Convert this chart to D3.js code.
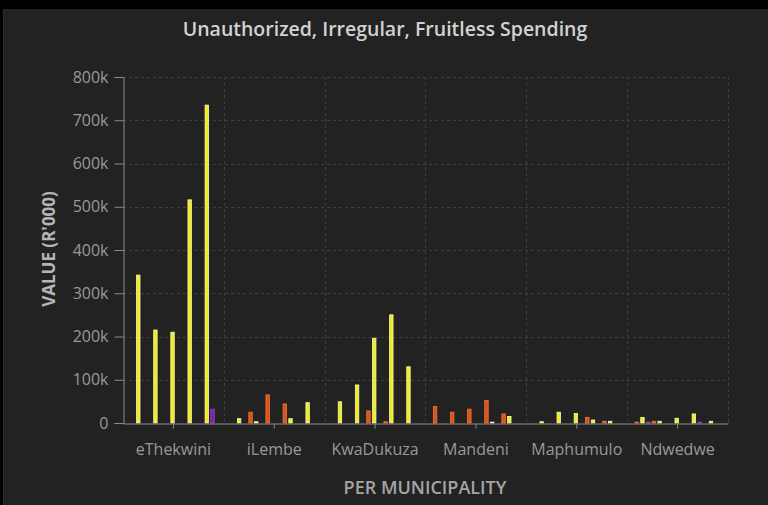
<!DOCTYPE html>
<html>
<head>
<meta charset="utf-8">
<script src="https://cdn.jsdelivr.net/npm/d3@7"></script>
<style>
  html, body { margin: 0; padding: 0; background: #000; }
  svg { display: block; }
</style>
</head>
<body>
<svg id="chart" width="768" height="505"></svg>
<script>
// Municipalities along the x axis
const municipalities = ["eThekwini", "iLembe", "KwaDukuza", "Mandeni", "Maphumulo", "Ndwedwe"];

// Five reporting years, each split into three spending types
const years = ["Y1", "Y2", "Y3", "Y4", "Y5"];
const types = ["Unauthorized", "Irregular", "Fruitless"];

// Values in R'000, one array per year and type, ordered as municipalities
const unauthorizedY1 = [0, 0, 0, 38000, 0, 2000];
const irregularY1    = [342000, 10000, 49000, 0, 3000, 13000];
const fruitlessY1    = [0, 0, 0, 0, 0, 2000];

const unauthorizedY2 = [0, 25000, 0, 25000, 0, 4000];
const irregularY2    = [215000, 3000, 88000, 0, 25000, 4000];
const fruitlessY2    = [0, 0, 0, 0, 0, 0];

const unauthorizedY3 = [0, 65000, 28000, 32000, 0, 0];
const irregularY3    = [210000, 0, 196000, 0, 22000, 11000];
const fruitlessY3    = [0, 0, 0, 0, 0, 0];

const unauthorizedY4 = [0, 44000, 3000, 52000, 13000, 0];
const irregularY4    = [516000, 10000, 250000, 2000, 7000, 21000];
const fruitlessY4    = [0, 0, 0, 0, 0, 2000];

const unauthorizedY5 = [0, 0, 0, 21000, 4000, 0];
const irregularY5    = [735000, 47000, 130000, 15000, 4000, 4000];
const fruitlessY5    = [32000, 0, 0, 0, 0, 0];

const yTicks = [0, 100000, 200000, 300000, 400000, 500000, 600000, 700000, 800000];

const seriesValues = [
  unauthorizedY1, irregularY1, fruitlessY1,
  unauthorizedY2, irregularY2, fruitlessY2,
  unauthorizedY3, irregularY3, fruitlessY3,
  unauthorizedY4, irregularY4, fruitlessY4,
  unauthorizedY5, irregularY5, fruitlessY5
];
const seriesKeys = [];
years.forEach(y => types.forEach(t => seriesKeys.push(y + "-" + t)));

const fillByType = { Unauthorized: "#de5018", Irregular: "#eded1c", Fruitless: "#7a22a6" };
const strokeByType = { Unauthorized: "#ef7a3c", Irregular: "#f9f9b4", Fruitless: "#9a48c4" };

const W = 768, H = 505;
const margin = { left: 123, right: 40, top: 77, bottom: 82 };

const svg = d3.select("#chart");

// panel background
svg.append("rect").attr("x", 3).attr("y", 9).attr("width", W - 3).attr("height", H - 9)
  .attr("fill", "#222222");
svg.append("line").attr("x1", 3.5).attr("x2", 3.5).attr("y1", 9).attr("y2", H)
  .attr("stroke", "#2c2c2c");

const x0 = d3.scaleBand().domain(municipalities)
  .range([margin.left, W - margin.right]).padding(0);
const x1 = d3.scaleBand().domain(seriesKeys)
  .range([0, x0.bandwidth()]).paddingInner(0.4).paddingOuter(1.53).align(0.45);
const y = d3.scaleLinear().domain([0, 800000]).range([H - margin.bottom, margin.top]);

const plotLeft = margin.left, plotRight = W - margin.right;

// dashed grid
const grid = svg.append("g");
yTicks.filter(t => t > 0).forEach(t => {
  grid.append("line")
    .attr("x1", plotLeft).attr("x2", plotRight)
    .attr("y1", Math.round(y(t)) + 0.5).attr("y2", Math.round(y(t)) + 0.5)
    .attr("stroke", "#3e3e3e").attr("stroke-dasharray", "3,3");
});
municipalities.forEach(m => {
  const xv = Math.round(x0(m) + x0.bandwidth()) + 0.5;
  grid.append("line")
    .attr("x1", xv).attr("x2", xv)
    .attr("y1", y(800000)).attr("y2", y(0))
    .attr("stroke", "#3e3e3e").attr("stroke-dasharray", "3,3");
});

// bars
const rows = [];
municipalities.forEach((m, mi) => {
  seriesKeys.forEach((k, si) => {
    const v = seriesValues[si][mi];
    if (v > 0) rows.push({ m, k, type: k.split("-")[1], v });
  });
});

svg.append("g").selectAll("rect").data(rows).join("rect")
  .attr("x", d => x0(d.m) + x1(d.k))
  .attr("y", d => y(d.v))
  .attr("width", x1.bandwidth())
  .attr("height", d => y(0) - y(d.v))
  .attr("fill", d => fillByType[d.type])
  .attr("stroke", d => strokeByType[d.type])
  .attr("stroke-width", 0.8);

// axes
const yAxis = svg.append("g")
  .attr("transform", `translate(${plotLeft + 0.5},0)`)
  .call(d3.axisLeft(y).tickValues(yTicks).tickFormat(d3.format("~s")).tickSize(9).tickPadding(6));
yAxis.select(".domain").attr("stroke", "#8a8a8a");
yAxis.selectAll(".tick line").attr("stroke", "#8a8a8a");
yAxis.selectAll("text").attr("fill", "#999999")
  .style("font-family", "'Open Sans', sans-serif").style("font-size", "16px");

const xAxis = svg.append("g")
  .attr("transform", `translate(0,${Math.round(y(0)) + 0.5})`)
  .call(d3.axisBottom(x0).tickSize(5).tickSizeOuter(0).tickPadding(15));
xAxis.select(".domain").attr("stroke", "#8a8a8a");
xAxis.selectAll(".tick line").attr("stroke", "#8a8a8a");
xAxis.selectAll("text").attr("fill", "#999999")
  .style("font-family", "'Open Sans', sans-serif").style("font-size", "16px");

// titles
svg.append("text")
  .attr("x", 385).attr("y", 36)
  .attr("text-anchor", "middle")
  .attr("fill", "#d2d2d2")
  .style("font-family", "'Open Sans', sans-serif").style("font-weight", "600").style("font-size", "19.5px")
  .text("Unauthorized, Irregular, Fruitless Spending");

svg.append("text")
  .attr("transform", "translate(55,249) rotate(-90)")
  .attr("text-anchor", "middle")
  .attr("fill", "#b5b5b5")
  .style("font-family", "'Open Sans', sans-serif").style("font-weight", "700").style("font-size", "17px")
  .text("VALUE (R'000)");

svg.append("text")
  .attr("x", 425).attr("y", 494)
  .attr("text-anchor", "middle")
  .attr("fill", "#a5a5a5")
  .style("font-family", "'Open Sans', sans-serif").style("font-weight", "600").style("font-size", "18px")
  .text("PER MUNICIPALITY");
</script>
</body>
</html>
